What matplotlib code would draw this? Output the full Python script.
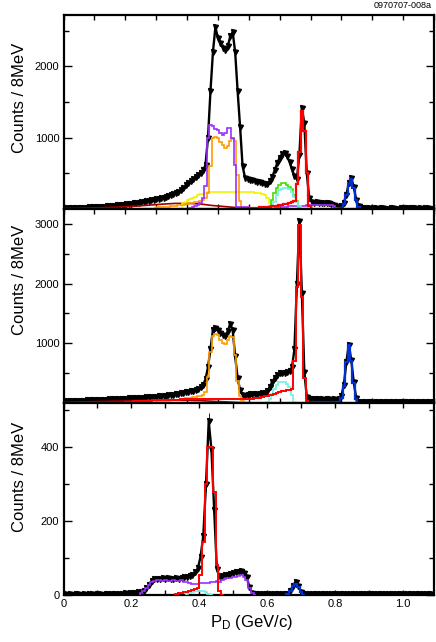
import numpy as np
import matplotlib
matplotlib.use("Agg")
import matplotlib.pyplot as plt
from matplotlib.ticker import MultipleLocator, FixedLocator, NullFormatter

plt.rcParams["font.family"] = ["Liberation Sans", "DejaVu Sans"]
plt.rcParams["mathtext.fontset"] = "custom"
plt.rcParams["mathtext.rm"] = "Liberation Sans"
plt.rcParams["mathtext.it"] = "Liberation Sans:italic"

BIN = 0.008  # 8 MeV bins, data centres at BIN/2 + i*BIN

# ---------------- top panel ----------------
TOP_DATA = [
    8, 10, 12, 12, 14, 15, 16, 18, 20, 20,
    22, 24, 26, 28, 30, 32, 35, 38, 40, 44,
    47, 50, 54, 58, 62, 66, 70, 75, 80, 85,
    90, 96, 102, 108, 115, 120, 128, 135, 142, 150,
    158, 168, 178, 190, 205, 222, 240, 262, 290, 330,
    360, 390, 420, 455, 480, 510, 540, 620, 1000, 1650,
    2200, 2550, 2400, 2330, 2260, 2230, 2280, 2420, 2480, 2200,
    1650, 1150, 600, 440, 420, 410, 400, 395, 385, 375,
    360, 350, 355, 390, 450, 540, 640, 720, 770, 790,
    740, 660, 560, 460, 420, 760, 1420, 1200, 500, 150,
    100, 90, 95, 90, 85, 90, 88, 80, 75, 60,
    40, 35, 45, 90, 200, 360, 440, 310, 130, 40,
    15, 10, 12, 8, 5, 10, 8, 6, 10, 8,
    6, 5, 8, 10, 6, 5, 8, 10, 12, 8,
    10, 12, 8, 6, 10, 5, 8, 10, 6, 5,
]
TOP_PURPLE_START = 0.412
TOP_PURPLE = [
    20, 30, 40, 60, 90, 150, 320, 1000, 1180, 1170,
    1120, 1110, 1060, 1040, 1070, 1130, 1140, 1000, 620, 30,
    25, 24, 22, 22, 20, 20, 20, 21, 22, 22, 24, 25, 25, 26, 28,
    28, 30, 30, 32, 34, 36, 38, 40, 42, 44, 46, 48, 50, 52,
    55, 58, 60, 60, 62, 60, 58, 55, 50, 45, 20, 0,
]
TOP_ORANGE_START = 0.300
TOP_ORANGE = [
    20, 22, 25, 28, 30, 34, 38, 42, 46, 50, 55, 60, 66, 72, 80, 88, 95, 105,
    115, 130, 150, 220, 600, 1000, 1010, 990, 940, 900, 860, 890, 950, 980,
    960, 480, 110, 0,
]
TOP_YELLOW_START = 0.388
TOP_YELLOW = [
    80, 100, 120, 140, 160, 175, 190, 205, 215, 225, 232, 236, 238, 240,
    240, 241, 242, 242, 241, 240, 240, 239, 239, 238, 238, 237, 236, 234,
    232, 230, 227, 220, 208, 190, 150, 90, 30, 0,
]
TOP_GREEN_START = 0.668
TOP_GREEN = [40, 130, 230, 300, 340, 360, 360, 330, 310, 280, 200, 110, 30, 0]
TOP_CYAN_START = 0.676
TOP_CYAN = [30, 100, 200, 260, 280, 300, 300, 280, 240, 170, 100, 40, 0]
TOP_RED_START = 0.580
TOP_RED = [
    10, 12, 14, 15, 17, 19, 20, 22, 25, 28, 30, 34, 38, 42, 48, 54, 60, 68,
    76, 85, 95, 110, 350, 800, 1370, 1100, 500, 40, 0,
]
TOP_BLUE_START = 0.876
TOP_BLUE = [5, 5, 5, 10, 70, 190, 350, 420, 300, 120, 30, 0]
TOP_DARKRED_P = [0.0, 0.04, 0.08, 0.12, 0.16, 0.20, 0.24, 0.28, 0.32, 0.36,
                 0.40, 0.44, 0.48, 0.52, 0.56, 0.60, 0.64, 0.68]
TOP_DARKRED_N = [5, 8, 12, 18, 25, 32, 42, 55, 68, 78,
                 80, 72, 50, 35, 20, 8, 2, 0]

# ---------------- middle panel ----------------
MID_DATA = [
    25, 28, 30, 32, 33, 35, 36, 38, 40, 42,
    44, 46, 48, 50, 52, 54, 56, 58, 60, 62,
    64, 66, 68, 70, 72, 74, 76, 78, 80, 82,
    85, 88, 90, 94, 97, 100, 104, 108, 112, 116,
    120, 125, 130, 136, 142, 148, 155, 162, 170, 178,
    186, 195, 205, 218, 235, 260, 300, 400, 600, 900,
    1230, 1250, 1220, 1180, 1140, 1120, 1200, 1330, 1220, 780,
    420, 210, 130, 125, 140, 150, 150, 145, 155, 150,
    160, 170, 200, 270, 350, 420, 470, 500, 510, 510,
    520, 530, 600, 900, 2000, 3050, 1850, 520, 100, 70,
    65, 60, 65, 60, 62, 58, 60, 62, 55, 60,
    55, 60, 120, 300, 680, 980, 720, 350, 80, 25,
    20, 15, 18, 20, 22, 15, 18, 20, 25, 18,
    15, 20, 18, 22, 15, 20, 18, 15, 20, 22,
    18, 15, 20, 18, 15, 20, 22, 18, 15, 12,
]
MID_ORANGE_START = 0.260
MID_ORANGE = [
    10, 12, 14, 16, 18, 20, 23, 26, 30, 34, 38, 42, 47, 52, 58, 64, 70, 77,
    84, 92, 100, 108, 115, 122, 135, 180, 430, 850, 1130, 1150, 1140, 1060,
    1000, 990, 1060, 1120, 1100, 800, 370, 110, 30, 0,
]
MID_RED_START = 0.204
MID_RED = [
    20, 22, 24, 26, 28, 30, 32, 34, 36, 38, 40, 42, 44, 46, 48, 50, 52, 54,
    55, 56, 57, 58, 59, 60, 60,
    60, 60, 61, 61, 62, 62, 62, 63, 63, 63, 62, 62, 61, 60, 60, 60, 60, 61,
    62, 63, 64, 65, 66, 68, 70,
    72, 75, 80, 85, 90, 100, 110, 120, 130, 140, 150, 165, 180, 195, 205,
    215, 225, 235,
    700, 1950, 2990, 1780, 420, 40, 0,
]
MID_CYAN_START = 0.660
MID_CYAN = [20, 60, 150, 230, 300, 350, 360, 350, 320, 260, 130, 20, 0]
MID_BLUE_START = 0.804
MID_BLUE = [18, 20, 22, 20, 19, 21, 20, 22, 20, 21, 20, 22,
            80, 280, 690, 980, 700, 340, 60, 0]
MID_DARKRED_P = [0.0, 0.04, 0.08, 0.12, 0.16, 0.20, 0.24, 0.28, 0.32, 0.36,
                 0.40, 0.44, 0.48, 0.52, 0.56, 0.60, 0.64]
MID_DARKRED_N = [10, 15, 20, 25, 30, 35, 40, 45, 48, 48,
                 45, 40, 30, 20, 10, 4, 0]

# ---------------- bottom panel ----------------
BOT_DATA = [
    2, 0, 3, 0, 2, 3, 0, 2, 0, 3,
    2, 0, 3, 2, 0, 3, 2, 3, 2, 4,
    3, 4, 5, 4, 5, 6, 6, 7, 8, 10,
    18, 28, 38, 44, 44, 42, 45, 43, 46, 44,
    43, 45, 44, 46, 48, 50, 52, 55, 62, 72,
    104, 160, 300, 470, 395, 230, 70, 50, 52, 54,
    55, 57, 60, 62, 63, 64, 60, 48, 22, 6,
    3, 2, 4, 2, 3, 2, 3, 4, 2, 3,
    3, 2, 4, 10, 25, 36, 25, 8, 3, 2,
    3, 2, 3, 2, 4, 3, 2, 3, 2, 3,
    2, 3, 4, 2, 3, 2, 3, 2, 4, 3,
    2, 3, 2, 4, 3, 2, 3, 2, 3, 2,
    3, 2, 4, 3, 2, 3, 2, 3, 2, 4,
    3, 2, 3, 2, 3, 2,
]
BOT_PURPLE_START = 0.228
BOT_PURPLE = [
    5, 10, 20, 28, 35, 38, 40, 40, 39, 40, 39, 38, 40, 39, 38, 40, 36, 34,
    32, 30, 30, 30, 32, 32, 33, 33, 34, 36, 38, 36, 40, 42, 45, 46, 48, 50,
    52, 53, 50, 40, 20, 5, 0,
]
BOT_RED_START = 0.332
BOT_RED = [4, 5, 6, 8, 9, 11, 13, 15, 20, 54, 144, 300, 400, 400, 280, 80, 10, 0]
BOT_CYAN_START = 0.364
BOT_CYAN = [3, 6, 9, 11, 12, 12, 11, 8, 4, 0]
BOT_BLUE_START = 0.660
BOT_BLUE = [3, 10, 24, 30, 22, 8, 0]

PURPLE, ORANGE, YELLOW = "#9b30ff", "#ff9a00", "#f2f200"
DARKRED, GREEN, CYAN = "#a00000", "#44dd00", "#6ff0e0"
RED, BLUE = "#ff0000", "#0030d0"


def draw_data(ax, vals):
    v = np.asarray(vals, dtype=float)
    x = BIN / 2 + BIN * np.arange(len(v))
    ax.plot(x, v, color="black", lw=1.7, zorder=2)
    ax.errorbar(x, v, yerr=np.sqrt(v), fmt="v", ms=3.6, color="black",
                elinewidth=0.6, capsize=0, zorder=3)


def draw_hist(ax, start, vals, color, lw=1.2):
    edges = start - BIN / 2 + BIN * np.arange(len(vals) + 1)
    ax.stairs(vals, edges, color=color, lw=lw, zorder=4)


def style(ax, xmax, ymax, ymajor, yminor, xlabels=False, ylabels=None):
    ax.set_xlim(0, xmax)
    ax.set_ylim(0, ymax)
    ax.xaxis.set_major_locator(MultipleLocator(0.2))
    ax.xaxis.set_minor_locator(MultipleLocator(0.1))
    ax.yaxis.set_major_locator(MultipleLocator(ymajor))
    ax.yaxis.set_minor_locator(MultipleLocator(yminor))
    ax.tick_params(which="both", direction="in", top=True, right=True,
                   labelsize=8, width=1.0, pad=3)
    ax.tick_params(which="major", axis="y", length=6)
    ax.tick_params(which="minor", axis="y", length=3.5)
    ax.tick_params(which="both", axis="x", length=3.5)
    for s in ax.spines.values():
        s.set_linewidth(1.6)
    if xlabels:
        ax.set_xticks([0, 0.2, 0.4, 0.6, 0.8, 1.0])
        ax.set_xticklabels(["0", "0.2", "0.4", "0.6", "0.8", "1.0"])
    else:
        ax.xaxis.set_major_formatter(NullFormatter())
    if ylabels is not None:
        ax.yaxis.set_major_locator(FixedLocator(ylabels))
        ax.set_yticklabels([str(t) for t in ylabels])


fig = plt.figure(figsize=(4.36, 6.42), dpi=100)
L, W = 63.5 / 436, 370.5 / 436
ax1 = fig.add_axes([L, 1 - 209 / 642, W, 194 / 642])
ax2 = fig.add_axes([L, 1 - 403 / 642, W, 194 / 642])
ax3 = fig.add_axes([L, 1 - 595 / 642, W, 192 / 642])

# top
draw_data(ax1, TOP_DATA)
ax1.plot(TOP_DARKRED_P, TOP_DARKRED_N, color=DARKRED, lw=1.2, zorder=4)
draw_hist(ax1, TOP_YELLOW_START, TOP_YELLOW, YELLOW)
draw_hist(ax1, TOP_ORANGE_START, TOP_ORANGE, ORANGE)
draw_hist(ax1, TOP_PURPLE_START, TOP_PURPLE, PURPLE)
draw_hist(ax1, TOP_GREEN_START, TOP_GREEN, GREEN)
draw_hist(ax1, TOP_CYAN_START, TOP_CYAN, CYAN)
draw_hist(ax1, TOP_RED_START, TOP_RED, RED, lw=1.6)
draw_hist(ax1, TOP_BLUE_START, TOP_BLUE, BLUE, lw=1.6)
style(ax1, 1.2, 2720, 1000, 500, ylabels=[1000, 2000])

# middle
draw_data(ax2, MID_DATA)
ax2.plot(MID_DARKRED_P, MID_DARKRED_N, color=DARKRED, lw=1.2, zorder=4)
draw_hist(ax2, MID_ORANGE_START, MID_ORANGE, ORANGE)
draw_hist(ax2, MID_CYAN_START, MID_CYAN, CYAN)
draw_hist(ax2, MID_RED_START, MID_RED, RED, lw=1.4)
draw_hist(ax2, MID_BLUE_START, MID_BLUE, BLUE, lw=1.6)
style(ax2, 1.2, 3250, 1000, 500, ylabels=[1000, 2000, 3000])

# bottom
draw_data(ax3, BOT_DATA)
draw_hist(ax3, BOT_CYAN_START, BOT_CYAN, CYAN)
draw_hist(ax3, BOT_PURPLE_START, BOT_PURPLE, PURPLE)
draw_hist(ax3, BOT_RED_START, BOT_RED, RED, lw=1.4)
draw_hist(ax3, BOT_BLUE_START, BOT_BLUE, BLUE, lw=1.6)
style(ax3, 1.092, 520, 200, 100, xlabels=True, ylabels=[0, 200, 400])

for yc in (98, 280, 477):
    fig.text(20 / 436, 1 - yc / 642, "Counts / 8MeV", rotation=90,
             ha="center", va="center", fontsize=12)
fig.text(251 / 436, 1 - 622 / 642, r"P$_{\mathrm{D}}$ (GeV/c)",
         ha="center", va="center", fontsize=12)
fig.text(432 / 436, 1 - 6 / 642, "0970707-008a", ha="right", va="center",
         fontsize=6.5)

fig.savefig("out.png", dpi=100)
